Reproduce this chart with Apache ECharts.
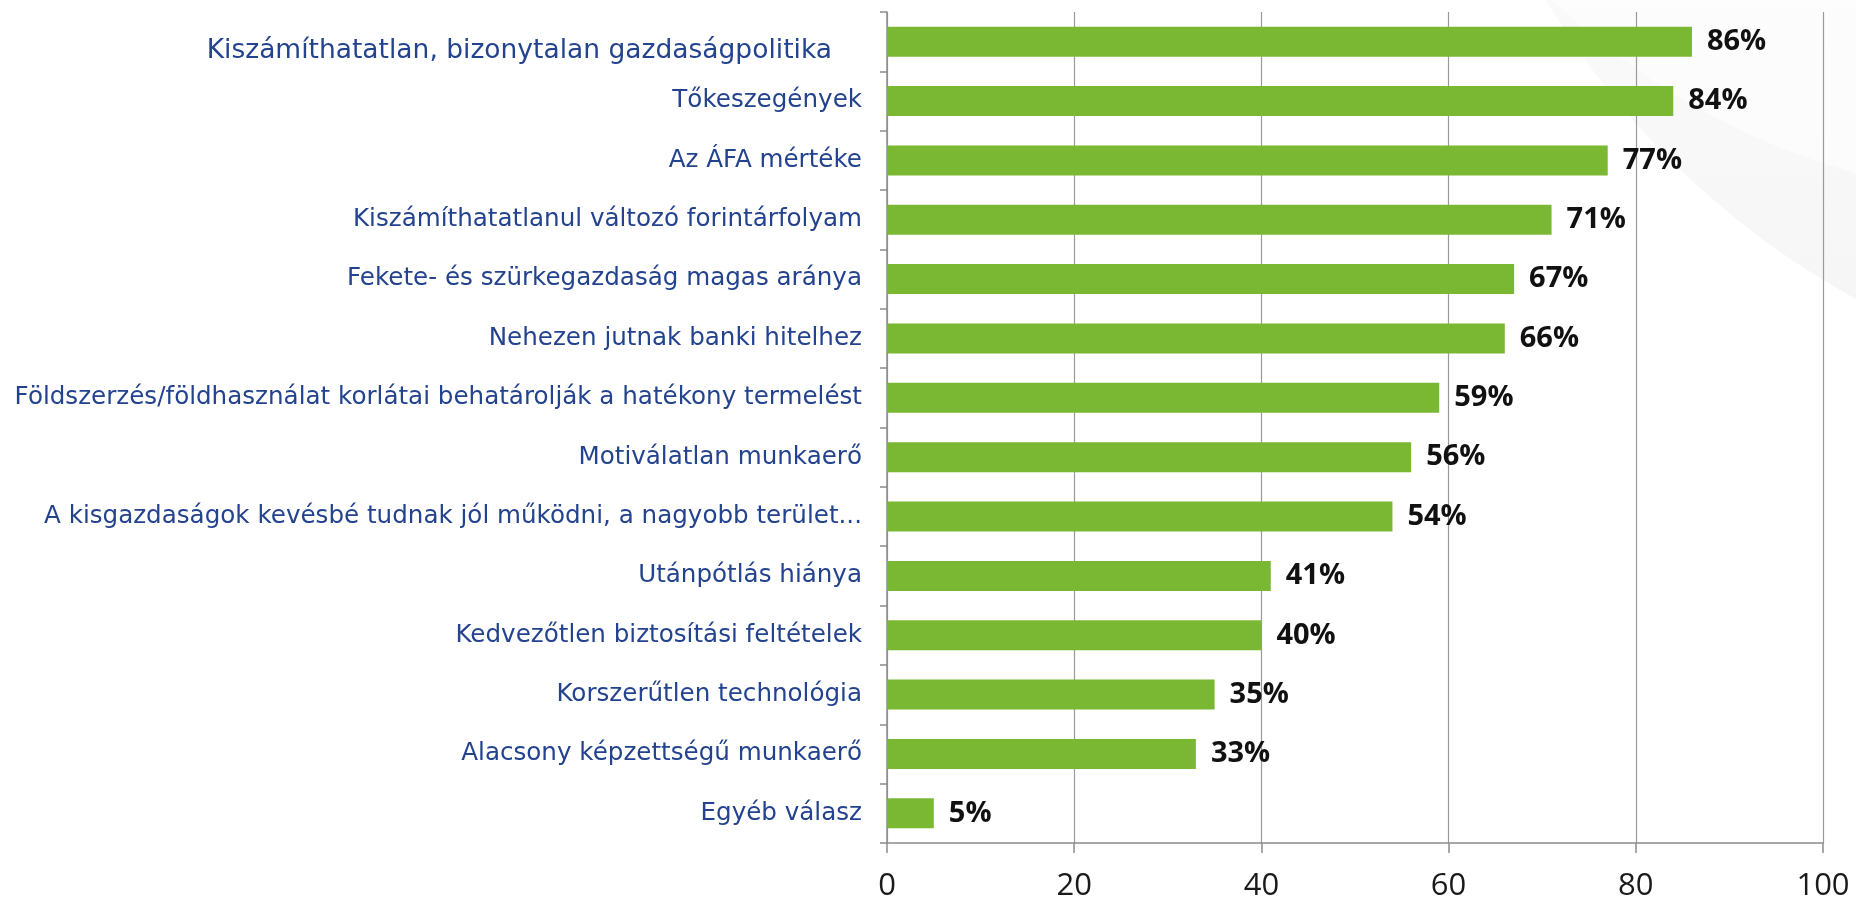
<!DOCTYPE html>
<html>
<head>
<meta charset="utf-8">
<script src="https://cdn.jsdelivr.net/npm/echarts@6/dist/echarts.min.js"></script>
<style>
  html, body { margin: 0; padding: 0; background: #fff; }
  #chart { width: 1856px; height: 902px; }
</style>
</head>
<body>
<div id="chart"></div>
<script>
  // categories top to bottom
  const categories = [
    'Kiszámíthatatlan, bizonytalan gazdaságpolitika',
    'Tőkeszegények',
    'Az ÁFA mértéke',
    'Kiszámíthatatlanul változó forintárfolyam',
    'Fekete- és szürkegazdaság magas aránya',
    'Nehezen jutnak banki hitelhez',
    'Földszerzés/földhasználat korlátai behatárolják a hatékony termelést',
    'Motiválatlan munkaerő',
    'A kisgazdaságok kevésbé tudnak jól működni, a nagyobb terület...',
    'Utánpótlás hiánya',
    'Kedvezőtlen biztosítási feltételek',
    'Korszerűtlen technológia',
    'Alacsony képzettségű munkaerő',
    'Egyéb válasz'
  ];
  const values = [86, 84, 77, 71, 67, 66, 59, 56, 54, 41, 40, 35, 33, 5];
  const xTicks = [0, 20, 40, 60, 80, 100];

  const axisColor = '#8c8c8c';
  const labelBlue = '#24438f';

  // the first label sits a bit lower and further left, in a larger size
  const yData = categories.map((c, i) => i === 0
    ? { value: c, textStyle: { fontSize: 26.5, verticalAlign: 'top', lineHeight: 18, padding: [0, 30, 0, 0] } }
    : c);

  const chart = echarts.init(document.getElementById('chart'));
  chart.setOption({
    backgroundColor: '#fff',
    animation: false,
    graphic: [
      {
        type: 'circle', z: -10, silent: true,
        shape: { cx: 2250, cy: -420, r: 820 },
        style: {
          fill: new echarts.graphic.LinearGradient(0, 1, 0, 0, [
            { offset: 0, color: 'rgba(240,240,240,0.7)' },
            { offset: 0.3, color: 'rgba(246,246,246,0.5)' },
            { offset: 1, color: 'rgba(255,255,255,0)' }
          ])
        }
      },
      {
        type: 'circle', z: -9, silent: true,
        shape: { cx: 2050, cy: -520, r: 720 },
        style: { fill: 'rgba(255,255,255,0.55)' }
      }
    ],
    grid: { left: 887, right: 33, top: 12, bottom: 59, containLabel: false },
    xAxis: {
      type: 'value',
      min: 0,
      max: 100,
      interval: 20,
      axisLine: { show: true, lineStyle: { color: axisColor, width: 1.5 } },
      axisTick: { show: true, length: 10, lineStyle: { color: axisColor, width: 1.5 } },
      splitLine: { show: true, lineStyle: { color: '#9a9a9a', width: 1.2 } },
      axisLabel: {
        margin: 28,
        fontSize: 31,
        color: '#1a1a1a',
        fontFamily: 'Open Sans',
        formatter: v => xTicks.includes(v) ? String(v) : ''
      }
    },
    yAxis: {
      type: 'category',
      inverse: true,
      data: yData,
      axisLine: { show: true, lineStyle: { color: axisColor, width: 1.5 } },
      axisTick: { show: true, length: 7, lineStyle: { color: axisColor, width: 1.5 } },
      axisLabel: {
        margin: 25,
        fontSize: 24.6,
        color: labelBlue,
        fontFamily: 'DejaVu Sans'
      }
    },
    series: [{
      type: 'bar',
      data: values,
      barWidth: 30,
      itemStyle: { color: '#7ab833' },
      label: {
        show: true,
        position: 'right',
        distance: 15,
        formatter: '{c}%',
        fontSize: 29,
        fontWeight: 'bold',
        color: '#111',
        fontFamily: 'Open Sans'
      }
    }]
  });
</script>
</body>
</html>
